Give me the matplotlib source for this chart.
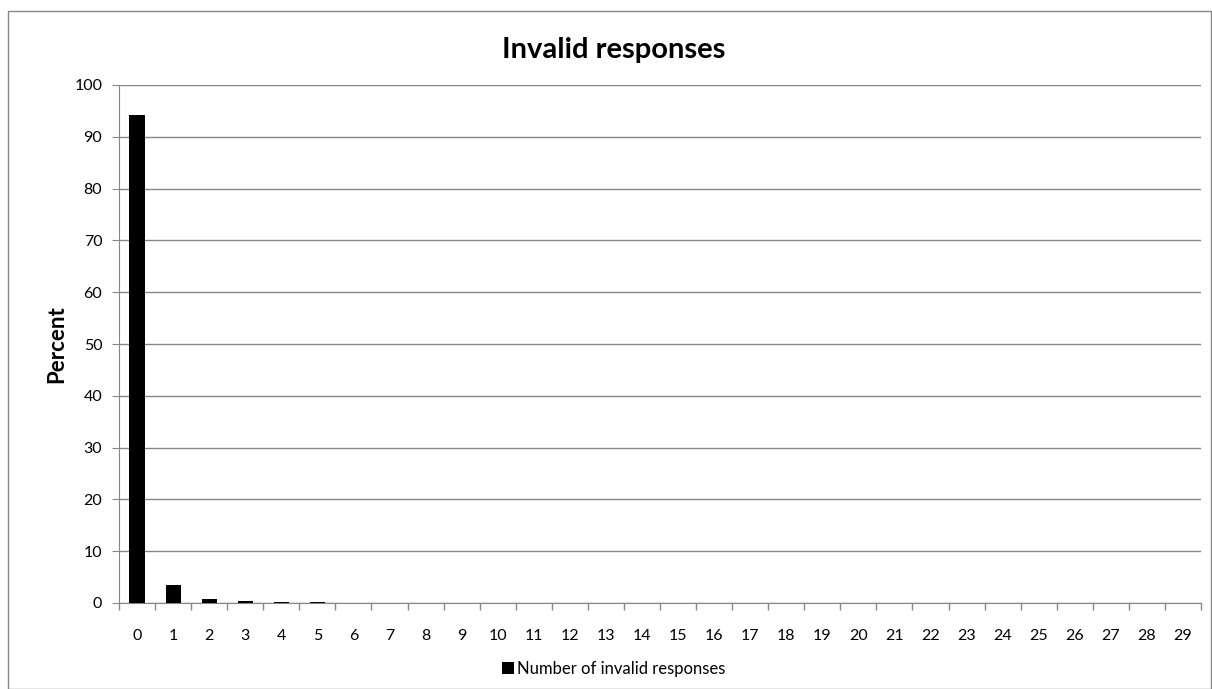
import matplotlib.pyplot as plt
from matplotlib.patches import Rectangle

plt.rcParams['font.family'] = ['Lato', 'DejaVu Sans']

categories = [str(i) for i in range(30)]
percent = [94.3, 3.5, 0.8, 0.35, 0.2, 0.15, 0.03, 0.05, 0.05, 0.0,
           0.05, 0.05, 0.0, 0.0, 0.0, 0.0, 0.04, 0.0, 0.0, 0.0,
           0.0, 0.0, 0.0, 0.0, 0.0, 0.0, 0.0, 0.0, 0.0, 0.0]

fig = plt.figure(figsize=(12.12, 6.89), dpi=100)
ax = fig.add_axes([119 / 1212, 1 - 603 / 689, (1201 - 119) / 1212, (603 - 85) / 689])

x = list(range(len(categories)))
ax.bar(x, percent, width=0.42, color='black', label='Number of invalid responses', zorder=3)

ax.set_xlim(-0.5, len(categories) - 0.5)
ax.set_ylim(0, 100)
ax.set_yticks(range(0, 101, 10))
ax.set_xticks(x)
ax.set_xticklabels(categories)
ax.set_xticks([i - 0.5 for i in range(len(categories) + 1)], minor=True)
ax.tick_params(axis='x', which='major', length=0, labelsize=11.5, pad=19)
ax.tick_params(axis='x', which='minor', length=5, color='#868686', width=1)
ax.tick_params(axis='y', length=5, color='#868686', labelsize=11.5, pad=7)
ax.grid(axis='y', color='#868686', linewidth=1, zorder=0)
for side in ['top', 'right']:
    ax.spines[side].set_visible(False)
for side in ['left', 'bottom']:
    ax.spines[side].set_color('#868686')

fig.text(614 / 1212, 1 - 50 / 689, 'Invalid responses', ha='center', va='center',
         fontsize=21, fontweight='bold')
fig.text(57 / 1212, 1 - 344 / 689, 'Percent', ha='center', va='center',
         rotation=90, fontsize=16, fontweight='bold')
fig.legend(loc='center', bbox_to_anchor=(614 / 1212, 1 - 669 / 689), frameon=False,
           fontsize=12, handlelength=0.7, handleheight=0.7, handletextpad=0.2)

fig.patches.append(Rectangle((8 / 1212, 0), 1 - 8 / 1212 - 0.0005, 1 - 11 / 689,
                             transform=fig.transFigure, fill=False,
                             edgecolor='#868686', linewidth=1))

fig.savefig('out.png', dpi=100)
